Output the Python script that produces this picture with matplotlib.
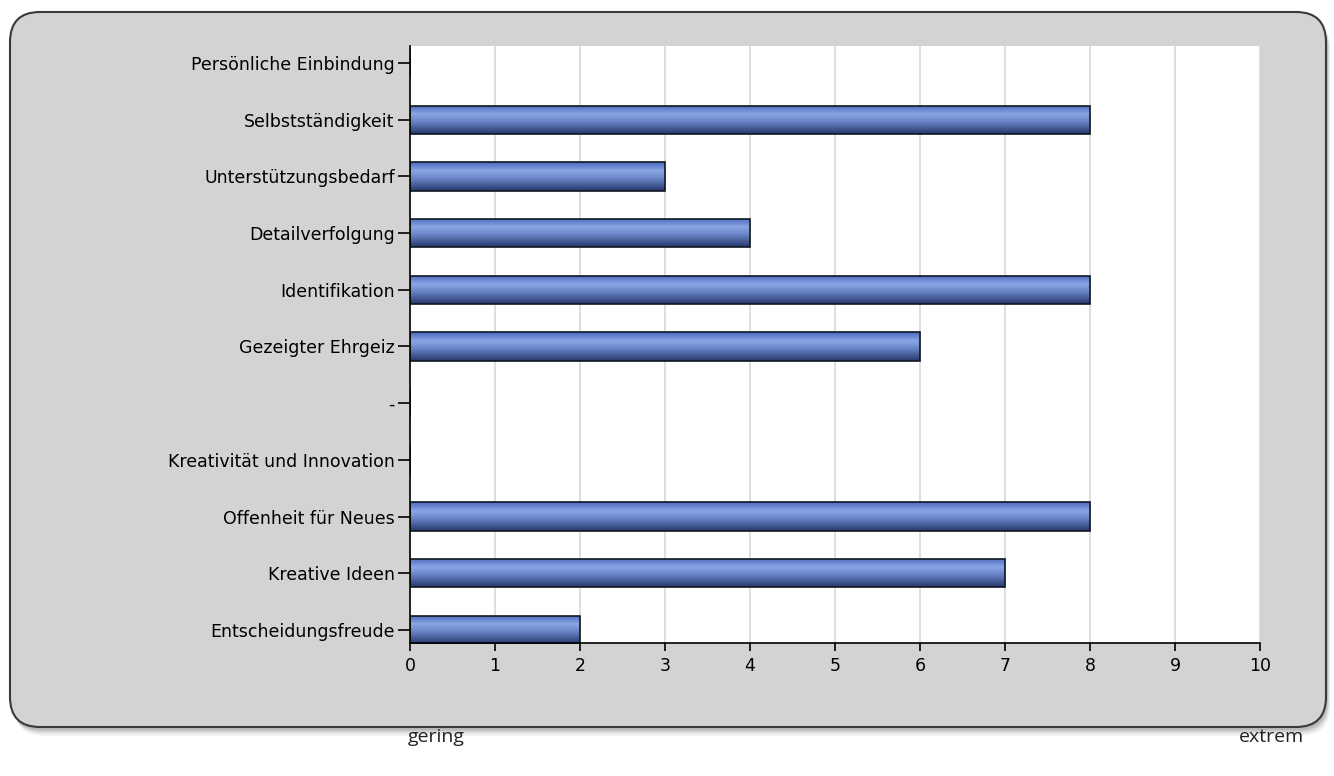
import matplotlib
matplotlib.use("Agg")
import matplotlib.pyplot as plt
import numpy as np
from matplotlib.colors import LinearSegmentedColormap
from matplotlib.patches import FancyBboxPatch

categories = [
    "Persönliche Einbindung",
    "Selbstständigkeit",
    "Unterstützungsbedarf",
    "Detailverfolgung",
    "Identifikation",
    "Gezeigter Ehrgeiz",
    "-",
    "Kreativität und Innovation",
    "Offenheit für Neues",
    "Kreative Ideen",
    "Entscheidungsfreude",
]
values = [0, 8, 3, 4, 8, 6, 0, 0, 8, 7, 2]
x_ticks = list(range(0, 11))
scale_low = "gering"
scale_high = "extrem"

fig = plt.figure(figsize=(13.34, 7.76), dpi=100)
fig.patch.set_facecolor("white")

# rounded grey panel with soft shadow
for i, a in enumerate([0.04, 0.06, 0.08, 0.11]):
    off = 0.09 - i * 0.018
    sh = FancyBboxPatch((0.10 + off * 0.5, 0.49 - off), 13.16, 7.15,
                        boxstyle="round,pad=0,rounding_size=0.3",
                        transform=fig.dpi_scale_trans, facecolor="black",
                        edgecolor="none", alpha=a, zorder=0)
    fig.patches.append(sh)
panel = FancyBboxPatch((0.10, 0.49), 13.16, 7.15,
                       boxstyle="round,pad=0,rounding_size=0.3",
                       transform=fig.dpi_scale_trans, facecolor="#d3d3d3",
                       edgecolor="#3a3a3a", linewidth=1.5, zorder=1)
fig.patches.append(panel)

ax = fig.add_axes([410 / 1334, 1 - 643 / 776, 850 / 1334, (643 - 46) / 776])
ax.set_zorder(2)
ax.set_facecolor("white")

y = np.arange(len(categories))
bars = ax.barh(y, values, height=0.5, facecolor="none",
               edgecolor="#101820", linewidth=1.2, zorder=3)

cmap = LinearSegmentedColormap.from_list(
    "bar", [(0.0, "#4a6ac0"), (0.3, "#8aa5e3"), (0.55, "#6c88cb"), (1.0, "#27386c")])
grad = np.linspace(0, 1, 64).reshape(-1, 1)
for rect, v in zip(bars, values):
    if v <= 0:
        continue
    y0 = rect.get_y()
    h = rect.get_height()
    im = ax.imshow(grad, cmap=cmap, aspect="auto", zorder=2,
                   extent=[0, v, y0 + h, y0], interpolation="bilinear")
    im.set_clip_path(rect)

ax.set_xlim(0, 10)
ax.set_ylim(len(categories) - 1 + 0.23, -0.3)
ax.set_xticks(x_ticks)
ax.set_yticks(y)
ax.set_yticklabels(categories)
ax.grid(True, axis="x", color="#d8d8d8", linewidth=1.2, zorder=1)
ax.set_axisbelow(True)
for s in ["top", "right"]:
    ax.spines[s].set_visible(False)
for s in ["left", "bottom"]:
    ax.spines[s].set_color("black")
    ax.spines[s].set_linewidth(1.2)
    ax.spines[s].set_zorder(4)
ax.tick_params(axis="both", direction="out", width=1.2,
               labelsize=12.5, colors="black")
ax.tick_params(axis="y", length=9, pad=2)
ax.tick_params(axis="x", length=6, pad=4)

fig.text(436 / 1334, 1 - 737 / 776, scale_low, ha="center", va="center",
         fontsize=14, family="Open Sans", color="#222222")
fig.text(1272 / 1334, 1 - 737 / 776, scale_high, ha="center", va="center",
         fontsize=14, family="Open Sans", color="#222222")

fig.savefig("out.png", dpi=100, facecolor="white")
